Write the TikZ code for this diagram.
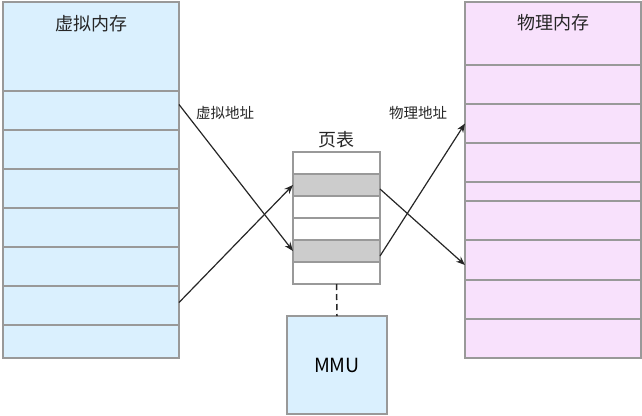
\documentclass[tikz,border=0pt]{standalone}
\usepackage{fontspec}
\setmainfont{Noto Sans CJK SC}
\usepackage{tikz}
\usetikzlibrary{arrows.meta}
\definecolor{vmem}{HTML}{DAF0FE}
\definecolor{pmem}{HTML}{F8E1FC}
\definecolor{entry}{HTML}{CCCCCC}
\definecolor{edge}{HTML}{999999}
\tikzset{
  box/.style={draw=edge,line width=1.3pt,inner sep=0pt,outer sep=0pt},
  title/.style={font=\fontsize{18}{21}\selectfont,text=black!85},
  tag/.style={font=\fontsize{14.5}{17}\selectfont,text=black!85},
  link/.style={-{Stealth[length=9pt,width=7pt]},line width=1.2pt,black!85}
}

\begin{document}
\begin{tikzpicture}[x=1pt,y=-1pt]
        \useasboundingbox (0,0) rectangle (642,415);
        % virtual memory
        \node[box,fill=vmem,minimum width=176pt,minimum height=89pt] (vhead) at (91,46.5){};
        \node[title] (vtitle) at (91,24){虚拟内存};
        \foreach \i in {1,...,6}
            \node[box,fill=vmem,minimum width=176pt,minimum height=39pt] (v\i) at (91,71.5+39*\i){};
        \node[box,fill=vmem,minimum width=176pt,minimum height=33pt] (v7) at (91,341.5){};
        % physical memory
        \node[box,fill=pmem,minimum width=176pt,minimum height=63pt] (phead) at (553,33.5){};
        \node[title] (ptitle) at (553,23){物理内存};
        \foreach \i/\t/\h in {1/65/39,2/104/39,3/143/39,4/182/19,5/201/39,6/240/40,7/280/39,8/319/39}
            \node[box,fill=pmem,minimum width=176pt,minimum height=\h pt] (p\i) at (553,\t+\h/2){};
        % page table
        \foreach \i/\c in {1/white,2/entry,3/white,4/white,5/entry,6/white}
            \node[box,fill=\c,minimum width=87pt,minimum height=22pt] (t\i) at (336.5,141+22*\i){};
        \node[title] (ttitle) at (336,140){页表};
        % MMU
        \node[box,fill=vmem,minimum width=100pt,minimum height=98pt,font=\fontsize{19.5}{23}\selectfont] (mmu) at (337,365){MMU};
        \draw[dash pattern=on 6pt off 4pt,line width=1.5pt,black!85] (t6.south) -- (mmu.north);
        % address labels
        \node[tag] (vaddr) at (225,113){虚拟地址};
        \node[tag] (paddr) at (418,113){物理地址};
        % translations
        \draw[link] ([yshift=6pt]v1.east) -- (t5.west);
        \draw[link] ([yshift=3pt]v6.east) -- (t2.west);
        \draw[link] ([yshift=-4pt]t2.east) -- ([yshift=-5pt]p6.west);
        \draw[link] ([yshift=-5pt]t5.east) -- (p2.west);
    \end{tikzpicture}
\end{document}
